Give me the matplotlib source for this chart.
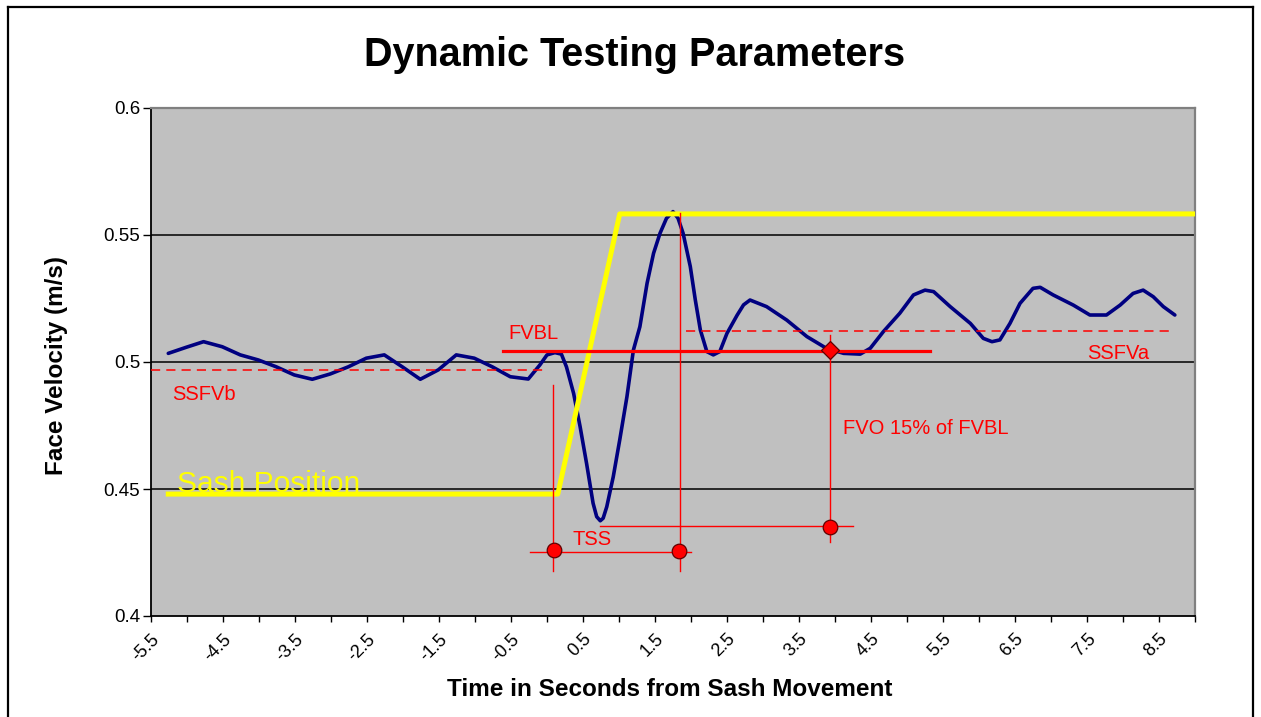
import matplotlib
matplotlib.use('Agg')
import matplotlib.pyplot as plt
from matplotlib.lines import Line2D
from matplotlib.ticker import MultipleLocator

plt.rcParams['font.family'] = ['Liberation Sans', 'DejaVu Sans']

# ---------------- data ----------------
title = "Dynamic Testing Parameters"
x_label = "Time in Seconds from Sash Movement"
y_label = "Face Velocity (m/s)"

x_tick_values = [-5.5, -4.5, -3.5, -2.5, -1.5, -0.5, 0.5, 1.5, 2.5, 3.5, 4.5, 5.5, 6.5, 7.5, 8.5]
x_tick_labels = ['-5.5', '-4.5', '-3.5', '-2.5', '-1.5', '-0.5', '0.5', '1.5', '2.5', '3.5',
                 '4.5', '5.5', '6.5', '7.5', '8.5']
y_tick_values = [0.4, 0.45, 0.5, 0.55, 0.6]
y_tick_labels = ['0.4', '0.45', '0.5', '0.55', '0.6']
grid_values = [0.45, 0.5, 0.55]

face_time = [-5.26, -5.01, -4.77, -4.51, -4.26, -4.01, -3.76, -3.51, -3.26, -3.01,
             -2.76, -2.51, -2.26, -2.01, -1.76, -1.51, -1.26, -1.01, -0.76, -0.51,
             -0.26, -0.10, 0.00, 0.11, 0.20, 0.27, 0.37, 0.46, 0.55, 0.64,
             0.69, 0.74, 0.78, 0.83, 0.92, 1.01, 1.11, 1.20, 1.29, 1.39,
             1.48, 1.57, 1.66, 1.75, 1.82, 1.89, 1.99, 2.06, 2.13, 2.22,
             2.31, 2.40, 2.50, 2.64, 2.73, 2.82, 3.05, 3.33, 3.61, 3.88,
             4.12, 4.35, 4.49, 4.67, 4.90, 5.09, 5.25, 5.37, 5.60, 5.88,
             6.06, 6.18, 6.29, 6.43, 6.57, 6.75, 6.85, 7.03, 7.31, 7.54,
             7.77, 7.96, 8.14, 8.28, 8.42, 8.56, 8.72]
face_velocity = [0.5034, 0.5058, 0.5080, 0.5060, 0.5028, 0.5008, 0.4981, 0.4949, 0.4932, 0.4953,
                 0.4981, 0.5015, 0.5028, 0.4981, 0.4932, 0.4969, 0.5028, 0.5015, 0.4981, 0.4942,
                 0.4933, 0.4988, 0.5028, 0.5037, 0.5031, 0.4981, 0.4876, 0.4745, 0.4600, 0.4444,
                 0.4391, 0.4375, 0.4385, 0.4430, 0.4548, 0.4693, 0.4863, 0.5047, 0.5139, 0.5310,
                 0.5428, 0.5507, 0.5566, 0.5592, 0.5566, 0.5507, 0.5376, 0.5244, 0.5126, 0.5041,
                 0.5028, 0.5041, 0.5113, 0.5184, 0.5225, 0.5244, 0.5218, 0.5165, 0.5100, 0.5054,
                 0.5034, 0.5031, 0.5054, 0.5119, 0.5192, 0.5264, 0.5283, 0.5277, 0.5218, 0.5152,
                 0.5093, 0.5080, 0.5087, 0.5152, 0.5231, 0.5290, 0.5294, 0.5264, 0.5224, 0.5185,
                 0.5185, 0.5224, 0.5270, 0.5283, 0.5257, 0.5218, 0.5185]

sash_time = [-5.26, 0.15, 1.01, 9.0]
sash_level = [0.448, 0.448, 0.5583, 0.5583]

fvbl_time = [-0.61, 5.32]
fvbl_level = 0.5043
ssfvb_time = [-5.5, 0.01]
ssfvb_level = 0.4969
ssfva_time = [1.93, 8.65]
ssfva_level = 0.5122

vline_time = [0.09, 1.85, 3.93]
vline_top = [0.4909, 0.5587, 0.5106]
vline_bottom = [0.4177, 0.4177, 0.4292]

tss_time = [-0.24, 2.00]
tss_level = 0.4253
fvo_time = [0.74, 4.25]
fvo_level = 0.4354

circle_time = [0.10, 1.83, 3.93]
circle_value = [0.4260, 0.4256, 0.4352]
diamond_time = [3.93]
diamond_value = [0.5047]

labels_text = ['FVBL', 'SSFVb', 'SSFVa', 'FVO 15% of FVBL', 'TSS']
labels_time = [-0.54, -5.21, 7.50, 4.11, 0.36]
labels_value = [0.5089, 0.4850, 0.5012, 0.4717, 0.4280]

sash_text = 'Sash Position'
sash_text_time = -5.14
sash_text_value = 0.4488

# ---------------- figure ----------------
W, H = 1261, 717
fig = plt.figure(figsize=(W / 100, H / 100), dpi=100)
fig.patch.set_facecolor('white')
ax = fig.add_axes([151 / W, (H - 616) / H, 1044 / W, 508 / H])
ax.set_facecolor('#C0C0C0')

ax.set_xlim(-5.5, 9.0)
ax.set_ylim(0.4, 0.6)

for g in grid_values:
    ax.axhline(g, color='black', lw=1.1, zorder=1)

ax.plot(face_time, face_velocity, color='#000080', lw=2.6, zorder=3,
        solid_joinstyle='round', solid_capstyle='round')
ax.plot(sash_time, sash_level, color='#FFFF00', lw=3.6, zorder=4)

red = '#FF0000'
ax.plot(fvbl_time, [fvbl_level] * 2, color=red, lw=2.3, zorder=5)
ax.plot(ssfvb_time, [ssfvb_level] * 2, color=red, lw=1.1, ls=(0, (6, 4)), zorder=5)
ax.plot(ssfva_time, [ssfva_level] * 2, color=red, lw=1.1, ls=(0, (6, 4)), zorder=5)
for t, top, bot in zip(vline_time, vline_top, vline_bottom):
    ax.plot([t, t], [bot, top], color=red, lw=1.0, zorder=5)
ax.plot(tss_time, [tss_level] * 2, color=red, lw=1.0, zorder=5)
ax.plot(fvo_time, [fvo_level] * 2, color=red, lw=1.0, zorder=5)
ax.plot(circle_time, circle_value, ls='none', marker='o', ms=10.5, mfc=red,
        mec='#600000', mew=0.9, zorder=6)
ax.plot(diamond_time, diamond_value, ls='none', marker='D', ms=9, mfc=red,
        mec='#600000', mew=0.9, zorder=6)

for txt, t, v in zip(labels_text, labels_time, labels_value):
    ax.text(t, v, txt, color=red, fontsize=14.5, ha='left', va='baseline', zorder=7)

ax.text(sash_text_time, sash_text_value, sash_text, color='#FFFF00', fontsize=21.5,
        ha='left', va='baseline', zorder=7)

# axes styling
ax.set_xticks(x_tick_values)
ax.set_xticklabels(x_tick_labels, rotation=45, ha='right', va='top',
                   rotation_mode='anchor', fontsize=13)
ax.xaxis.set_minor_locator(MultipleLocator(0.5))
ax.tick_params(axis='x', which='both', direction='out', length=4.5, width=1.0,
               color='black', pad=6)
ax.set_yticks(y_tick_values)
ax.set_yticklabels(y_tick_labels, fontsize=13.5)
ax.tick_params(axis='y', which='both', direction='out', length=5.8, width=1.0,
               color='black', pad=2)

for side in ['left', 'bottom']:
    ax.spines[side].set_color('black')
    ax.spines[side].set_linewidth(1.3)
for side in ['top', 'right']:
    ax.spines[side].set_color('#808080')
    ax.spines[side].set_linewidth(1.6)

fig.text(634.5 / W, 1 - 55 / H, title, ha='center', va='center',
         fontsize=28.5, fontweight='bold')
fig.text(670 / W, 1 - 689 / H, x_label, ha='center', va='center',
         fontsize=17.5, fontweight='bold')
fig.text(57 / W, 1 - 365 / H, y_label, ha='center', va='center', rotation=90,
         fontsize=17.5, fontweight='bold')

# outer chart frame
fig.add_artist(Line2D([8 / W, 8 / W], [-0.01, 1 - 7 / H], transform=fig.transFigure,
                      color='black', lw=1.6))
fig.add_artist(Line2D([1253 / W, 1253 / W], [-0.01, 1 - 7 / H], transform=fig.transFigure,
                      color='black', lw=1.6))
fig.add_artist(Line2D([8 / W, 1253 / W], [1 - 7 / H, 1 - 7 / H], transform=fig.transFigure,
                      color='black', lw=1.6))

fig.savefig('out.png', dpi=100, facecolor='white')
